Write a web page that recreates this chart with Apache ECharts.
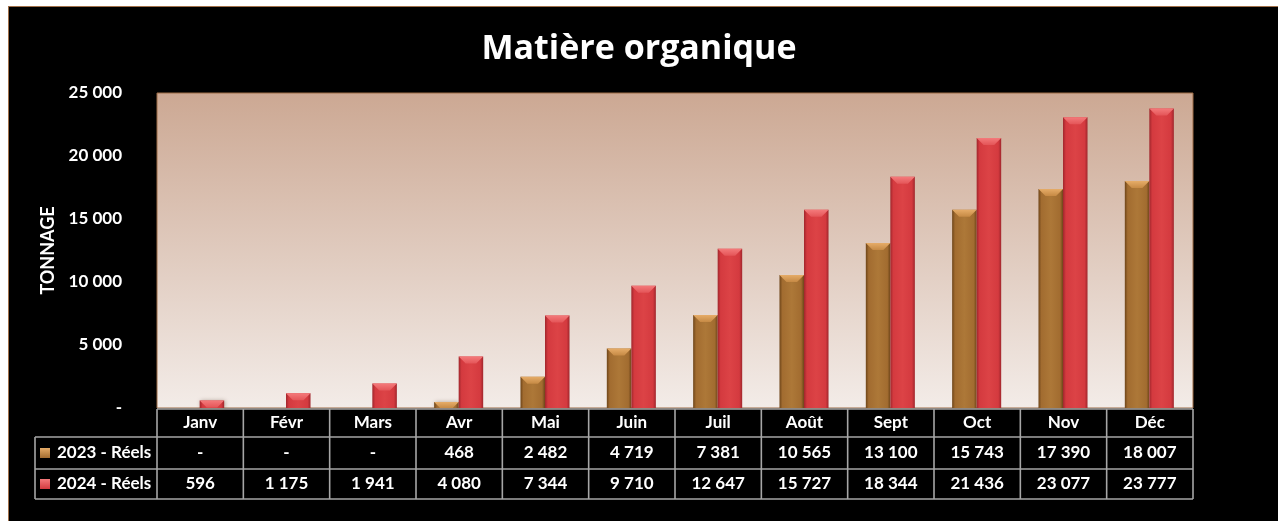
<!DOCTYPE html>
<html>
<head>
<meta charset="utf-8">
<script src="https://cdn.jsdelivr.net/npm/echarts@6/dist/echarts.min.js"></script>
<style>
html,body{margin:0;padding:0;background:#ffffff;overflow:hidden;}
#frame{position:absolute;left:8px;top:6px;width:1270px;height:515px;background:#000;border-left:1px solid #a0704a;border-top:1px solid #a0704a;box-sizing:border-box;}
#chart{position:absolute;left:0;top:0;width:1278px;height:521px;}
</style>
</head>
<body>
<div id="frame"></div>
<div id="chart"></div>
<script>
// ---- data ----
const categories = ['Janv','Févr','Mars','Avr','Mai','Juin','Juil','Août','Sept','Oct','Nov','Déc'];
const seriesNames = ['2023 - Réels','2024 - Réels'];
const reels2023 = [null, null, null, 468, 2482, 4719, 7381, 10565, 13100, 15743, 17390, 18007];
const reels2024 = [596, 1175, 1941, 4080, 7344, 9710, 12647, 15727, 18344, 21436, 23077, 23777];
const yMin = 0, yMax = 25000, yStep = 5000;

// ---- helpers ----
function fmt(v){
  if (v === null || v === undefined || v === 0) return '-';
  return String(Math.round(v)).replace(/\B(?=(\d{3})+(?!\d))/g, ' ');
}
const FONT = 'Lato, "Open Sans", sans-serif';
const LG = echarts.graphic.LinearGradient;

const palettes = [
  { edge:'#6e4519', main:'#a26c30', mid:'#ad7838', cap:'#e6ac68', capEdge:'#c68a45' },
  { edge:'#a0262c', main:'#d43a3f', mid:'#dc4346', cap:'#f47a7b', capEdge:'#e45558' }
];

function makeRender(pal, side){
  return function(params, api){
    const v = api.value(1);
    if (v === null || v === undefined || isNaN(v) || v <= 0) return null;
    const cat = api.value(0);
    const base = api.coord([cat, 0]);
    const top = api.coord([cat, v]);
    const band = api.size([1, 0])[0];
    const w = band * 0.284;
    const x0 = side < 0 ? base[0] - w - 0.5 : base[0] - 0.5;
    const y0 = top[1];
    const h = base[1] - top[1];
    const b = Math.min(7, w / 3.2, h);
    return {
      type: 'group',
      children: [
        { type:'rect', shape:{x:x0, y:y0, width:w, height:h},
          style:{ fill: new LG(0,0,1,0,[
              {offset:0, color:pal.edge},{offset:0.12, color:pal.main},
              {offset:0.5, color:pal.mid},{offset:0.88, color:pal.main},{offset:1, color:pal.edge}]),
            shadowBlur:4, shadowColor:'rgba(60,30,10,0.35)', shadowOffsetX:1, shadowOffsetY:0 } },
        { type:'polygon', shape:{points:[[x0,y0],[x0+w,y0],[x0+w-b,y0+b],[x0+b,y0+b]]},
          style:{ fill: new LG(0,0,0,1,[{offset:0,color:pal.cap},{offset:1,color:pal.capEdge}]) } }
      ]
    };
  };
}

const chart = echarts.init(document.getElementById('chart'), null, {renderer:'canvas'});
const gridLeft = 157, gridRight = 85, gridTop = 93, gridBottom = 113;

chart.setOption({
  backgroundColor: 'transparent',
  animation: false,
  title: {
    text: 'Matière organique', left: 'center', top: 27,
    textStyle: { color:'#ffffff', fontSize:34, fontWeight:'bold', fontFamily:'"Open Sans", sans-serif' }
  },
  grid: {
    left: gridLeft, right: gridRight, top: gridTop, bottom: gridBottom,
    show: true,
    backgroundColor: new LG(0,0,0,1,[{offset:0,color:'#cca893'},{offset:1,color:'#f3ece8'}]),
    borderColor: '#9c6b45', borderWidth: 1
  },
  xAxis: {
    type: 'category', data: categories,
    axisLine: {show:false}, axisTick: {show:false},
    axisLabel: { color:'#ffffff', fontSize:17, fontWeight:'bold', fontFamily:FONT, margin:6 }
  },
  yAxis: {
    type: 'value', min: yMin, max: yMax, interval: yStep,
    name: 'TONNAGE', nameLocation: 'middle', nameRotate: 90, nameGap: 98,
    nameTextStyle: { color:'#ffffff', fontSize:18, fontWeight:'bold', fontFamily:FONT },
    axisLine: {show:false}, axisTick: {show:false}, splitLine: {show:false},
    axisLabel: { color:'#ffffff', fontSize:17, fontWeight:'bold', fontFamily:FONT, margin:35, formatter: fmt }
  },
  series: [
    { type:'custom', name:seriesNames[0], renderItem: makeRender(palettes[0], -1),
      encode:{x:0, y:1}, data: reels2023.map((v,i)=>[i, v]) },
    { type:'custom', name:seriesNames[1], renderItem: makeRender(palettes[1], 1),
      encode:{x:0, y:1}, data: reels2024.map((v,i)=>[i, v]) }
  ]
});

// ---- data table below the plot ----
function buildTable(){
  const c0 = chart.convertToPixel({xAxisIndex:0}, 0);
  const c1 = chart.convertToPixel({xAxisIndex:0}, 1);
  const band = c1 - c0;
  const xL = c0 - band/2;
  const xR = xL + band * categories.length;
  const yHead = 409, yR1 = 437, yR2 = 469, yEnd = 499, xLeg = 35;
  const lineStyle = { stroke:'#a6a6a6', lineWidth:1.6 };
  const g = [];
  const hl = (x1,x2,y) => g.push({type:'line', shape:{x1,y1:y,x2,y2:y}, style:lineStyle, z:10});
  const vl = (x,y1,y2) => g.push({type:'line', shape:{x1:x,y1,x2:x,y2}, style:lineStyle, z:10});
  hl(xL, xR, yHead); hl(xLeg, xR, yR1); hl(xLeg, xR, yR2); hl(xLeg, xR, yEnd);
  vl(xLeg, yR1, yEnd);
  for (let i = 0; i <= categories.length; i++) vl(xL + band*i, yHead, yEnd);
  const rows = [reels2023, reels2024];
  const rowY = [(yR1+yR2)/2, (yR2+yEnd)/2];
  rows.forEach((arr, r) => {
    arr.forEach((v, i) => {
      g.push({type:'text', x: chart.convertToPixel({xAxisIndex:0}, i), y: rowY[r], z:11,
        style:{ text: fmt(v), fill:'#ffffff', font:'bold 17px '+FONT, align:'center', verticalAlign:'middle' }});
    });
    const pal = palettes[r];
    g.push({type:'rect', shape:{x:40, y:rowY[r]-5, width:10, height:10}, z:11,
      style:{ fill: new LG(0,0,0,1,[{offset:0,color:pal.cap},{offset:1,color:pal.main}]) }});
    g.push({type:'text', x:57, y: rowY[r], z:11,
      style:{ text: seriesNames[r], fill:'#ffffff', font:'bold 17px '+FONT, align:'left', verticalAlign:'middle' }});
  });
  chart.setOption({ graphic: g });
}
buildTable();
</script>
</body>
</html>
